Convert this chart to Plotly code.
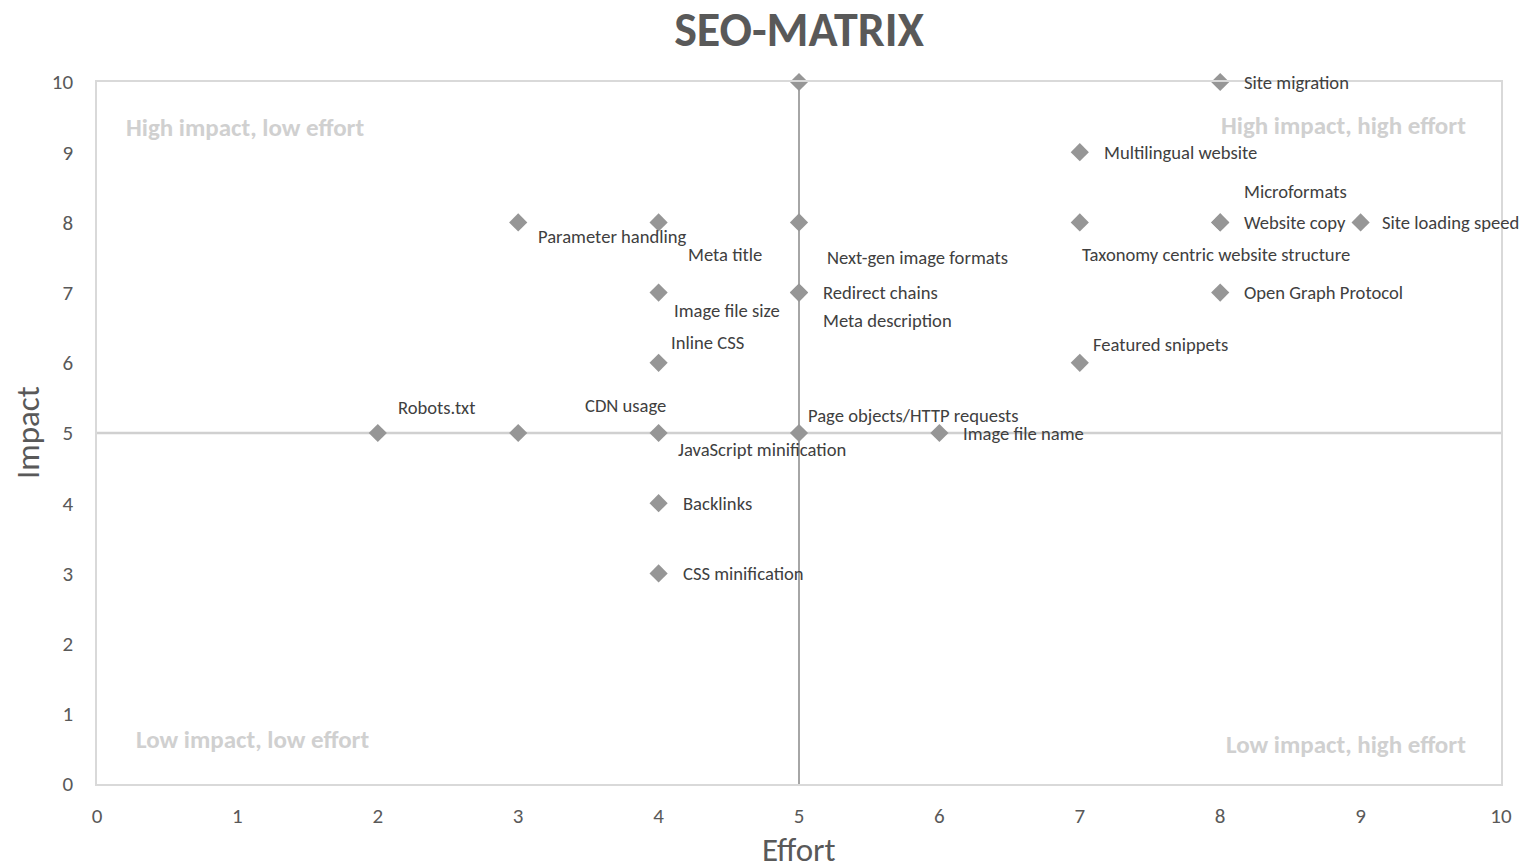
import plotly.graph_objects as go

# ---- data ----
effort = [8, 7, 8, 8, 9, 7, 5, 3, 4, 5, 5, 8, 4, 4, 7, 2, 3, 4, 5, 6, 4, 4, 5]
impact = [10, 9, 8, 8, 8, 8, 8, 8, 8, 7, 7, 7, 7, 6, 6, 5, 5, 5, 5, 5, 4, 3, 10]
labels = [
    "Site migration", "Multilingual website", "Microformats", "Website copy",
    "Site loading speed", "Taxonomy centric website structure", "Next-gen image formats",
    "Parameter handling", "Meta title", "Redirect chains", "Meta description",
    "Open Graph Protocol", "Image file size", "Inline CSS", "Featured snippets",
    "Robots.txt", "CDN usage", "JavaScript minification", "Page objects/HTTP requests",
    "Image file name", "Backlinks", "CSS minification", "",
]
divider_effort = 5
divider_impact = 5
axis_max = 10
x_ticks = [0, 1, 2, 3, 4, 5, 6, 7, 8, 9, 10]
y_ticks = [0, 1, 2, 3, 4, 5, 6, 7, 8, 9, 10]
x_title = "Effort"
y_title = "Impact"
quadrant_texts = ["High impact, low effort", "High impact, high effort",
                  "Low impact, low effort", "Low impact, high effort"]

# ---- label placement (pixel offsets) ----
label_shift = [
    (22, 0), (22, 0), (22, 31), (22, 0), (19, 0), (0, -32), (26, -35),
    (18, -14), (27, -32), (22, 0), (22, -28), (22, 0), (13, -18), (10, 20),
    (11, 18), (18, 26), (65, 28), (17, -16), (7, 18), (22, 0), (22, 0), (22, 0), (0, 0),
]

FONT = "Carlito, Lato, sans-serif"
TXT = "#404040"
AX = "#595959"

fig = go.Figure()

fig.add_trace(go.Scatter(
    x=[divider_effort, divider_effort], y=[0, axis_max], mode="lines",
    line=dict(color="#a6a6a6", width=2), hoverinfo="skip", showlegend=False))
fig.add_trace(go.Scatter(
    x=[0, axis_max], y=[divider_impact, divider_impact], mode="lines",
    line=dict(color="#d0d0d0", width=2.5), hoverinfo="skip", showlegend=False))

fig.add_trace(go.Scatter(
    x=effort, y=impact, mode="markers", text=labels,
    marker=dict(symbol="diamond", size=14, color="#969696", line=dict(width=0)),
    showlegend=False, cliponaxis=False))

for xv, yv, lab, (dx, dy) in zip(effort, impact, labels, label_shift):
    if not lab:
        continue
    fig.add_annotation(x=xv, y=yv, text=lab, showarrow=False, xanchor="left",
                       yanchor="middle", xshift=dx, yshift=dy,
                       font=dict(family=FONT, size=18.6, color=TXT))

q_pos = [(0.0192, 0.9345, "left"), (0.9765, 0.9387, "right"),
         (0.0264, 0.0627, "left"), (0.9765, 0.0556, "right")]
for t, (px, py, anc) in zip(quadrant_texts, q_pos):
    fig.add_annotation(x=px, y=py, xref="paper", yref="paper", text="<b>" + t + "</b>",
                       showarrow=False, xanchor=anc, yanchor="middle",
                       font=dict(family=FONT, size=25, color="#d0d0d0"))

# axis titles
fig.add_annotation(x=0.5, y=0, xref="paper", yref="paper", text=x_title, showarrow=False,
                   xanchor="center", yanchor="middle", yshift=-66,
                   font=dict(family=FONT, size=33, color=AX))
fig.add_annotation(x=0, y=0.5, xref="paper", yref="paper", text=y_title, showarrow=False,
                   textangle=-90, xanchor="center", yanchor="middle", xshift=-69,
                   font=dict(family=FONT, size=33, color=AX))

fig.update_layout(
    width=1524, height=865,
    margin=dict(l=97, r=23, t=82, b=81),
    paper_bgcolor="white", plot_bgcolor="white",
    title=dict(text="<b>SEO-MATRIX</b>", x=0.5243, xanchor="center", y=0.9665, yanchor="middle",
               font=dict(family=FONT, size=48, color=AX)),
    font=dict(family=FONT, color=AX),
    xaxis=dict(range=[0, axis_max], tickvals=x_ticks, showgrid=False, zeroline=False,
               showline=True, mirror=True, linecolor="#d9d9d9", linewidth=1.5,
               automargin=False,
               ticks="", ticklabelstandoff=12, tickfont=dict(size=21, color=AX)),
    yaxis=dict(range=[0, axis_max], tickvals=y_ticks, showgrid=False, zeroline=False,
               showline=True, mirror=True, linecolor="#d9d9d9", linewidth=1.5,
               automargin=False,
               ticks="", ticklabelstandoff=18, tickfont=dict(size=21, color=AX)),
)

fig.write_html("out.html", config={"displayModeBar": False},
               post_script="document.body.style.margin='0';document.body.style.overflow='hidden';")
